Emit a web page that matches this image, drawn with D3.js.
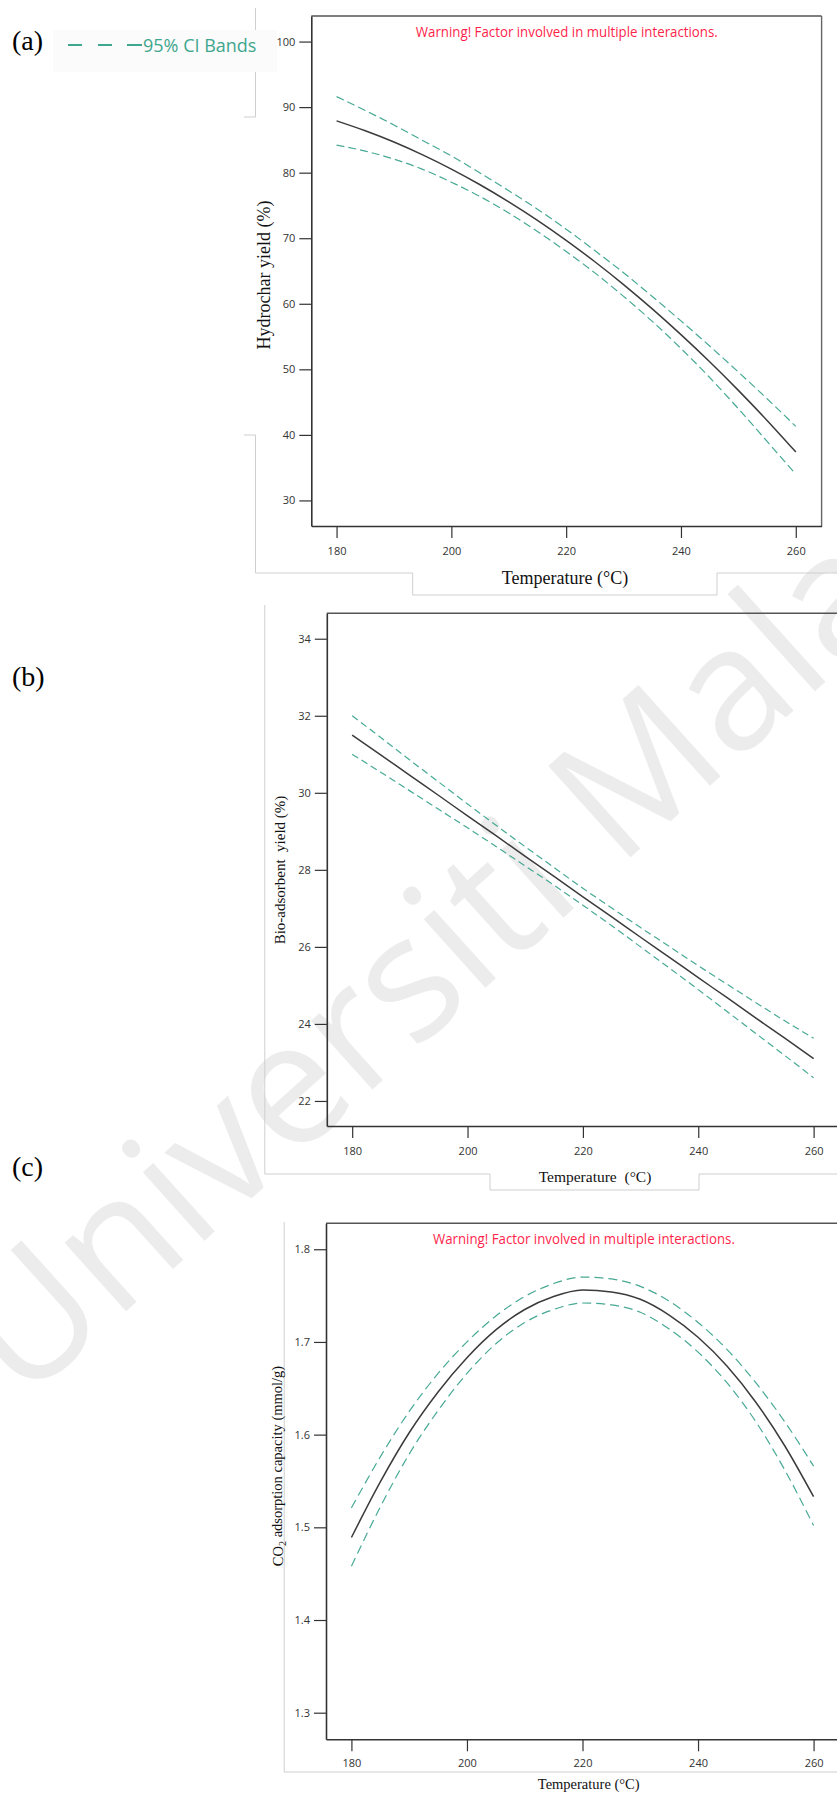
<!DOCTYPE html>
<html>
<head>
<meta charset="utf-8">
<script src="https://cdn.jsdelivr.net/npm/d3@7"></script>
<style>
  html, body { margin: 0; padding: 0; background: #ffffff; }
  svg { display: block; }
  text { font-family: "Open Sans", "Noto Sans", sans-serif; }
  .serif { font-family: "Liberation Serif", "Times New Roman", serif; }
</style>
</head>
<body>
<svg id="fig" width="837" height="1796"></svg>
<script>
// Temperature grid shared by all three one-factor plots (°C)
const temperature = [180, 185, 190, 195, 200, 205, 210, 215, 220, 225, 230, 235, 240, 245, 250, 255, 260];
const temperatureTicks = [180, 200, 220, 240, 260];

// (a) Hydrochar yield (%): model prediction and 95% CI bands
const hydrocharFit   = [87.90, 86.39, 84.67, 82.71, 80.55, 78.16, 75.55, 72.73, 69.68, 66.41, 62.93, 59.22, 55.29, 51.15, 46.79, 42.21, 37.40];
const hydrocharUpper = [91.60, 89.49, 87.27, 84.91, 82.55, 79.96, 77.25, 74.43, 71.38, 68.11, 64.73, 61.12, 57.39, 53.55, 49.59, 45.51, 41.30];
const hydrocharLower = [84.20, 83.29, 82.07, 80.51, 78.55, 76.36, 73.85, 71.03, 67.98, 64.71, 61.13, 57.32, 53.19, 48.75, 43.99, 39.01, 34.00];
const hydrocharTicks = [30, 40, 50, 60, 70, 80, 90, 100];

// (b) Bio-adsorbent yield (%)
const bioFit   = [31.50, 30.98, 30.45, 29.93, 29.40, 28.88, 28.35, 27.83, 27.30, 26.78, 26.25, 25.73, 25.20, 24.68, 24.15, 23.63, 23.10];
const bioUpper = [32.00, 31.43, 30.85, 30.28, 29.71, 29.15, 28.60, 28.06, 27.52, 27.01, 26.50, 26.01, 25.51, 25.03, 24.55, 24.08, 23.63];
const bioLower = [31.00, 30.53, 30.05, 29.57, 29.09, 28.60, 28.10, 27.60, 27.08, 26.55, 26.00, 25.45, 24.89, 24.32, 23.75, 23.18, 22.60];
const bioTicks = [22, 24, 26, 28, 30, 32, 34];

// (c) CO2 adsorption capacity (mmol/g)
const co2Fit   = [1.489, 1.549, 1.602, 1.646, 1.683, 1.713, 1.735, 1.749, 1.756, 1.754, 1.746, 1.729, 1.705, 1.674, 1.635, 1.588, 1.533];
const co2Upper = [1.521, 1.576, 1.625, 1.666, 1.700, 1.728, 1.749, 1.763, 1.770, 1.768, 1.760, 1.744, 1.721, 1.692, 1.656, 1.614, 1.566];
const co2Lower = [1.458, 1.522, 1.579, 1.626, 1.666, 1.698, 1.721, 1.735, 1.742, 1.740, 1.732, 1.714, 1.689, 1.656, 1.614, 1.562, 1.502];
const co2Ticks = [1.3, 1.4, 1.5, 1.6, 1.7, 1.8];

const warningText = "Warning! Factor involved in multiple interactions.";

const svg = d3.select("#fig");
const CI_COLOR = "#47a994";
const FIT_COLOR = "#3b3b3b";
const GUIDE = "#cfcfcf";

// faint diagonal watermark behind everything
svg.append("text")
  .attr("transform", "translate(22,1405) rotate(-42)")
  .attr("font-size", 172)
  .attr("fill", "#ececec")
  .text("Universiti Malaya");

// light guide outlines around each panel
function guide(points) {
  svg.append("path")
    .attr("d", d3.line()(points))
    .attr("fill", "none")
    .attr("stroke", GUIDE)
    .attr("stroke-width", 1);
}
guide([[244, 117], [255.5, 117], [255.5, 8]]);
guide([[244, 435], [255.5, 435], [255.5, 573], [412.7, 573], [412.7, 595], [717, 595], [717, 573], [837, 573]]);
guide([[264.8, 605], [264.8, 1174], [490, 1174], [490, 1190], [699, 1190], [699, 1174], [837, 1174]]);
guide([[284.2, 1222], [284.2, 1772], [837, 1772]]);

// legend for the CI bands
svg.append("rect").attr("x", 53).attr("y", 30).attr("width", 224).attr("height", 42).attr("fill", "#fafbfa");
[[68, 82], [98, 112], [127, 142]].forEach(([a, b]) => {
  svg.append("line").attr("x1", a).attr("x2", b).attr("y1", 45).attr("y2", 45)
    .attr("stroke", "#3fa78e").attr("stroke-width", 2);
});
svg.append("text").attr("x", 143).attr("y", 51.5).attr("font-size", 18).attr("fill", "#3fa68e").text("95% CI Bands");

function drawPanel(p) {
  const x = d3.scaleLinear().domain(p.xDomain).range(p.xRange);
  const y = d3.scaleLinear().domain(p.yDomain).range(p.yRange);
  const g = svg.append("g");
  const [x0, x1] = p.xRange;
  const [yb, yt] = p.yRange;

  // top (and right) frame
  g.append("line").attr("x1", x0).attr("x2", x1).attr("y1", yt).attr("y2", yt)
    .attr("stroke", "#555").attr("stroke-width", 1.4);
  if (p.rightFrame) {
    g.append("line").attr("x1", x1).attr("x2", x1).attr("y1", yt).attr("y2", yb)
      .attr("stroke", "#666").attr("stroke-width", 1.4);
  }

  const styleAxis = sel => {
    sel.select(".domain").attr("stroke", "#333").attr("stroke-width", 1.6);
    sel.selectAll(".tick line").attr("stroke", "#333").attr("stroke-width", 1.2);
    sel.selectAll(".tick text").attr("fill", "#333").attr("font-size", 11)
      .attr("font-family", '"Open Sans", sans-serif');
  };

  g.append("g").attr("transform", `translate(${x0},0)`)
    .call(d3.axisLeft(y).tickValues(p.yTicks).tickFormat(p.yFormat).tickSize(12).tickPadding(4).tickSizeOuter(0))
    .call(styleAxis);
  g.append("g").attr("transform", `translate(0,${yb})`)
    .call(d3.axisBottom(x).tickValues(temperatureTicks).tickFormat(d3.format("d")).tickSize(12).tickPadding(p.xPad).tickSizeOuter(0))
    .call(styleAxis);

  const line = vals => d3.line()
    .x((d, i) => x(temperature[i]))
    .y(d => y(d))
    .curve(d3.curveMonotoneX)(vals);

  [p.upper, p.lower].forEach(vals => {
    g.append("path").attr("d", line(vals)).attr("fill", "none")
      .attr("stroke", CI_COLOR).attr("stroke-width", 1.2).attr("stroke-dasharray", p.dash);
  });
  g.append("path").attr("d", line(p.fit)).attr("fill", "none")
    .attr("stroke", FIT_COLOR).attr("stroke-width", 1.5);

  if (p.warning) {
    g.append("text").attr("x", p.warning[0]).attr("y", p.warning[1])
      .attr("text-anchor", "middle").attr("font-size", 14).attr("fill", "#ff1f4b")
      .attr("textLength", 302).attr("lengthAdjust", "spacingAndGlyphs")
      .text(warningText);
  }

  // axis titles
  g.append("text").attr("class", "serif")
    .attr("x", p.xTitle[0]).attr("y", p.xTitle[1]).attr("text-anchor", "middle")
    .attr("font-size", p.xTitle[2]).attr("fill", "#111").style("white-space", "pre")
    .text(p.xLabel);
  const yt2 = g.append("text").attr("class", "serif")
    .attr("transform", `translate(${p.yTitle[0]},${p.yTitle[1]}) rotate(-90)`)
    .attr("text-anchor", "middle").attr("font-size", p.yTitle[2]).attr("fill", "#111")
    .style("white-space", "pre");
  p.yLabel(yt2);

  // panel letter
  svg.append("text").attr("class", "serif").attr("x", 12).attr("y", p.letter[1])
    .attr("font-size", 28).attr("fill", "#000").text(p.letter[0]);
}

drawPanel({
  xDomain: [175.6, 264.5], xRange: [311.3, 821.6],
  yDomain: [26.1, 103.9], yRange: [526, 16],
  yTicks: hydrocharTicks, yFormat: d3.format("d"), xPad: 9,
  fit: hydrocharFit, upper: hydrocharUpper, lower: hydrocharLower,
  dash: "8,4", rightFrame: true,
  warning: [566.8, 36.5],
  xLabel: "Temperature (°C)", xTitle: [565, 584, 18],
  yTitle: [270, 275, 18], yLabel: t => t.text("Hydrochar yield (%)"),
  letter: ["(a)", 50]
});

drawPanel({
  xDomain: [175.6, 264.4], xRange: [326.8, 839],
  yDomain: [21.35, 34.66], yRange: [1126, 613.3],
  yTicks: bioTicks, yFormat: d3.format("d"), xPad: 9,
  fit: bioFit, upper: bioUpper, lower: bioLower,
  dash: "7,4", rightFrame: false,
  warning: null,
  xLabel: "Temperature  (°C)", xTitle: [595, 1181.5, 15.5],
  yTitle: [285, 870, 15], yLabel: t => t.text("Bio-adsorbent  yield (%)"),
  letter: ["(b)", 686]
});

drawPanel({
  xDomain: [175.6, 264.4], xRange: [326, 839],
  yDomain: [1.2713, 1.828], yRange: [1739.3, 1223.3],
  yTicks: co2Ticks, yFormat: d3.format(".1f"), xPad: 8,
  fit: co2Fit, upper: co2Upper, lower: co2Lower,
  dash: "9,5", rightFrame: false,
  warning: [583.9, 1243.5],
  xLabel: "Temperature (°C)", xTitle: [588.7, 1789, 14.5],
  yTitle: [283, 1466, 14.5],
  yLabel: t => {
    t.append("tspan").text("CO");
    t.append("tspan").attr("dy", "0.3em").attr("font-size", "70%").text("2");
    t.append("tspan").attr("dy", "-0.3em").text(" adsorption capacity (mmol/g)");
  },
  letter: ["(c)", 1176]
});
</script>
</body>
</html>
